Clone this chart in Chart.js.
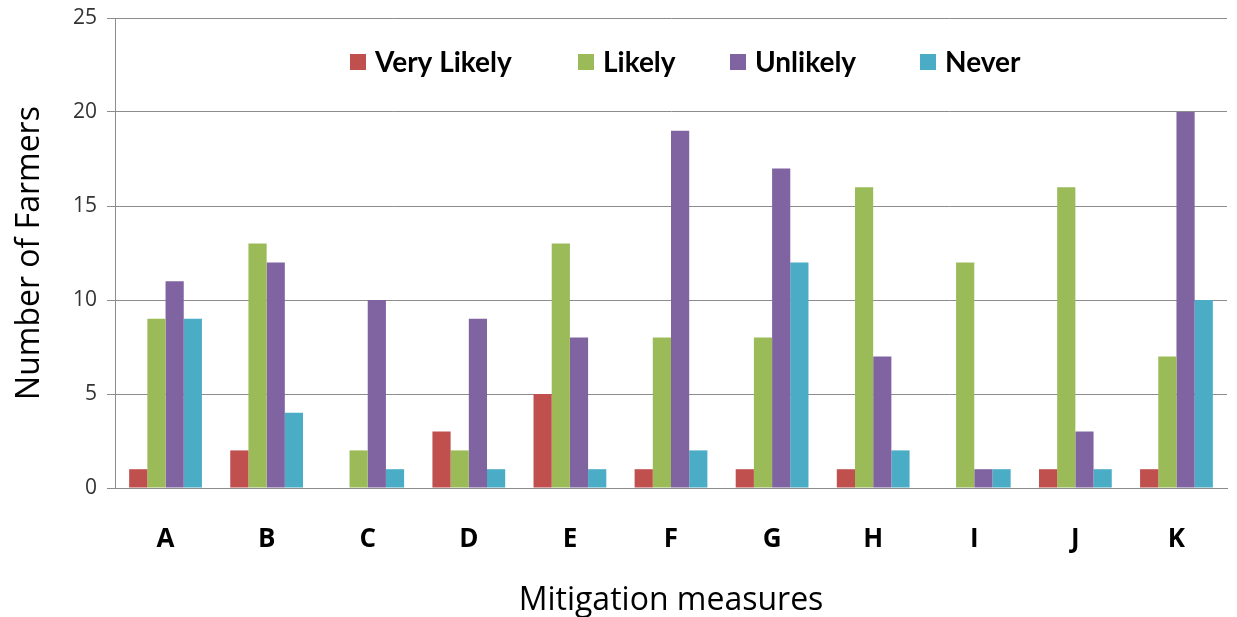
<!DOCTYPE html>
<html>
<head>
<meta charset="utf-8">
<script src="https://cdn.jsdelivr.net/npm/chart.js@4"></script>
<style>
  html, body { margin: 0; padding: 0; background: #fff; }
  #wrap { width: 1237px; height: 617px; }
</style>
</head>
<body>
<div id="wrap"><canvas id="farmersChart"></canvas></div>
<script>
// ===== Data =====
const categories = ['A', 'B', 'C', 'D', 'E', 'F', 'G', 'H', 'I', 'J', 'K'];
const veryLikely = [1, 2, 0, 3, 5, 1, 1, 1, 0, 1, 1];
const likely     = [9, 13, 2, 2, 13, 8, 8, 16, 12, 16, 7];
const unlikely   = [11, 12, 10, 9, 8, 19, 17, 7, 1, 3, 20];
const never      = [9, 4, 1, 1, 1, 2, 12, 2, 1, 1, 10];
const seriesNames = ['Very Likely', 'Likely', 'Unlikely', 'Never'];
const seriesColors = ['#C0504D', '#9BBB59', '#8064A2', '#4BACC6'];

// legend drawn inside the plot area (like Excel)
const insideLegend = {
  id: 'insideLegend',
  afterDraw(chart) {
    const ctx = chart.ctx;
    const xs = [350, 578, 730, 920];
    const y = 62;
    ctx.save();
    ctx.font = 'bold 28px Lato';
    ctx.textBaseline = 'middle';
    ctx.textAlign = 'left';
    chart.data.datasets.forEach((ds, i) => {
      ctx.fillStyle = ds.backgroundColor;
      ctx.fillRect(xs[i], y - 8, 16, 16);
      ctx.fillStyle = '#000';
      ctx.fillText(ds.label, xs[i] + 25, y + 1);
    });
    ctx.restore();
  }
};

const datasets = [veryLikely, likely, unlikely, never].map((vals, i) => ({
  label: seriesNames[i],
  data: vals,
  backgroundColor: seriesColors[i],
  barPercentage: 1,
  categoryPercentage: 0.72
}));

const ctx = document.getElementById('farmersChart').getContext('2d');
const farmersChart = new Chart(ctx, {
  type: 'bar',
  data: { labels: categories, datasets: datasets },
  options: {
    responsive: true,
    maintainAspectRatio: false,
    animation: false,
    layout: { padding: { top: 18, right: 10, left: 0, bottom: 0 } },
    plugins: {
      legend: { display: false },
      tooltip: { enabled: false }
    },
    scales: {
      y: {
        min: 0,
        max: 25,
        ticks: { stepSize: 5, color: '#333', font: { family: 'Open Sans', size: 21 }, padding: 10 },
        grid: { color: '#8c8c8c', tickLength: 8 },
        border: { color: '#8c8c8c' },
        title: { display: true, text: 'Number of Farmers', color: '#000', font: { family: 'Open Sans', size: 32 }, padding: { top: 11, bottom: 4 } },
        afterFit(scale) {
          scale.width = 115;
          scale.paddingTop = 0;
          scale.paddingBottom = 0;
        }
      },
      x: {
        ticks: { color: '#000', font: { family: 'Open Sans', size: 26, weight: 'bold' }, padding: 28 },
        grid: { display: false },
        border: { color: '#8c8c8c' },
        title: { display: true, text: 'Mitigation measures', color: '#000', font: { family: 'Open Sans', size: 32 }, padding: { top: 0, bottom: -3 } },
        afterFit(scale) { scale.height = 129; }
      }
    }
  },
  plugins: [insideLegend]
});
</script>
</body>
</html>
